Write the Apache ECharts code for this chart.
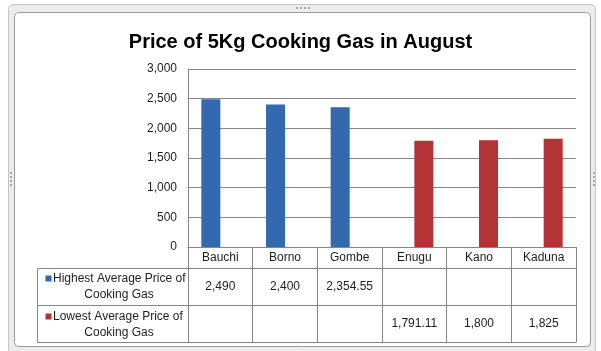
<!DOCTYPE html>
<html>
<head>
<meta charset="utf-8">
<script src="https://cdn.jsdelivr.net/npm/echarts@6/dist/echarts.min.js"></script>
<style>
html,body{margin:0;padding:0;background:#fff;}
#c{width:601px;height:351px;}
</style>
</head>
<body>
<div id="c"></div>
<script>
var title = 'Price of 5Kg Cooking Gas in August';
var categories = ['Bauchi', 'Borno', 'Gombe', 'Enugu', 'Kano', 'Kaduna'];
var highestName = 'Highest Average Price of Cooking Gas';
var lowestName = 'Lowest Average Price of Cooking Gas';
var highestValues = [2490, 2400, 2354.55, null, null, null];
var lowestValues = [null, null, null, 1791.11, 1800, 1825];
var yTicks = [0, 500, 1000, 1500, 2000, 2500, 3000];

var BLUE = '#3469AF', RED = '#B33336', GRID = '#868686', TXT = '#1e1e1e';
var FONT = 'Liberation Sans';

function fmt(v) {
  if (v === null || v === undefined) return '';
  return v.toLocaleString('en-US', {maximumFractionDigits: 2});
}

var chart = echarts.init(document.getElementById('c'), null, {renderer: 'canvas'});

var tableLeft = 37.5, tableRight = 576.5;
var rowY = [268.5, 305.5, 342.5];

function line(x1, y1, x2, y2, color, z) {
  return {type: 'line', z: z || 5, shape: {x1: x1, y1: y1, x2: x2, y2: y2},
          style: {stroke: color, lineWidth: 1}, silent: true};
}
function txt(x, y, s, align) {
  return {type: 'text', z: 5, x: x, y: y,
          style: {text: s, fill: TXT, font: '12px "' + FONT + '"', align: align || 'left', verticalAlign: 'middle'}};
}
function dots(x, y, horizontal) {
  var out = [];
  for (var i = 0; i < 4; i++) {
    out.push({type: 'rect', z: -5, shape: {x: horizontal ? x + i * 4 : x, y: horizontal ? y : y + i * 4, width: 2, height: 2},
              style: {fill: '#a8a8a8'}});
  }
  return out;
}

var graphics = [
  {type: 'rect', z: -10, shape: {x: 8.5, y: 4.5, width: 587, height: 352, r: 5},
   style: {fill: '#ececec', stroke: '#c6c6c6', lineWidth: 1}},
  {type: 'rect', z: -9, shape: {x: 14.5, y: 12.5, width: 576, height: 334, r: 4},
   style: {fill: '#ffffff', stroke: '#9c9c9c', lineWidth: 1}},
  line(tableLeft, rowY[0], tableRight, rowY[0], GRID),
  line(tableLeft, rowY[1], tableRight, rowY[1], GRID),
  line(tableLeft, rowY[2], tableRight, rowY[2], GRID),
  line(tableLeft, rowY[0], tableLeft, rowY[2], GRID),
  {type: 'rect', z: 5, shape: {x: 45.5, y: 275.5, width: 6, height: 6}, style: {fill: BLUE}},
  {type: 'rect', z: 5, shape: {x: 45.5, y: 313.5, width: 6, height: 6}, style: {fill: RED}},
  txt(53, 278.5, 'Highest Average Price of'),
  txt(119, 294.5, 'Cooking Gas', 'center'),
  txt(53, 316.5, 'Lowest Average Price of'),
  txt(119, 332.5, 'Cooking Gas', 'center')
].concat(dots(296, 7, true), dots(593, 172, false), dots(10, 172, false));

var labelStyle = {color: TXT, fontFamily: FONT, fontSize: 12};

var option = {
  animation: false,
  backgroundColor: '#fff',
  title: {
    text: title, left: 'center', top: 27,
    textStyle: {fontFamily: FONT, fontSize: 20, fontWeight: 'bold', color: '#000'}
  },
  grid: {left: 188, top: 69, width: 388, height: 178, containLabel: false},
  xAxis: [
    {
      type: 'category', data: categories, gridIndex: 0, position: 'bottom',
      axisLine: {show: true, lineStyle: {color: GRID}},
      axisTick: {show: true, interval: 0, length: 95, lineStyle: {color: GRID}},
      axisLabel: Object.assign({interval: 0, margin: 5}, labelStyle),
      splitLine: {show: false}
    },
    {
      type: 'category', data: categories, gridIndex: 0, position: 'bottom', offset: 39.5,
      axisLine: {show: false}, axisTick: {show: false},
      axisLabel: Object.assign({interval: 0, margin: 0, verticalAlign: 'middle',
        formatter: function (v, i) { return fmt(highestValues[i]); }}, labelStyle)
    },
    {
      type: 'category', data: categories, gridIndex: 0, position: 'bottom', offset: 76.5,
      axisLine: {show: false}, axisTick: {show: false},
      axisLabel: Object.assign({interval: 0, margin: 0, verticalAlign: 'middle',
        formatter: function (v, i) { return fmt(lowestValues[i]); }}, labelStyle)
    }
  ],
  yAxis: {
    type: 'value', min: yTicks[0], max: yTicks[yTicks.length - 1], interval: yTicks[1] - yTicks[0],
    axisLine: {show: true, lineStyle: {color: GRID}},
    axisTick: {show: false},
    axisLabel: Object.assign({margin: 11, formatter: function (v) { return fmt(v); }}, labelStyle),
    splitLine: {show: true, lineStyle: {color: GRID, width: 1}}
  },
  series: [
    {name: highestName, type: 'bar', data: highestValues, barWidth: 19, barGap: '0%',
     itemStyle: {color: BLUE}},
    {name: lowestName, type: 'bar', data: lowestValues, barWidth: 19, barGap: '0%',
     itemStyle: {color: RED}}
  ],
  graphic: {elements: graphics}
};
chart.setOption(option);
</script>
</body>
</html>
